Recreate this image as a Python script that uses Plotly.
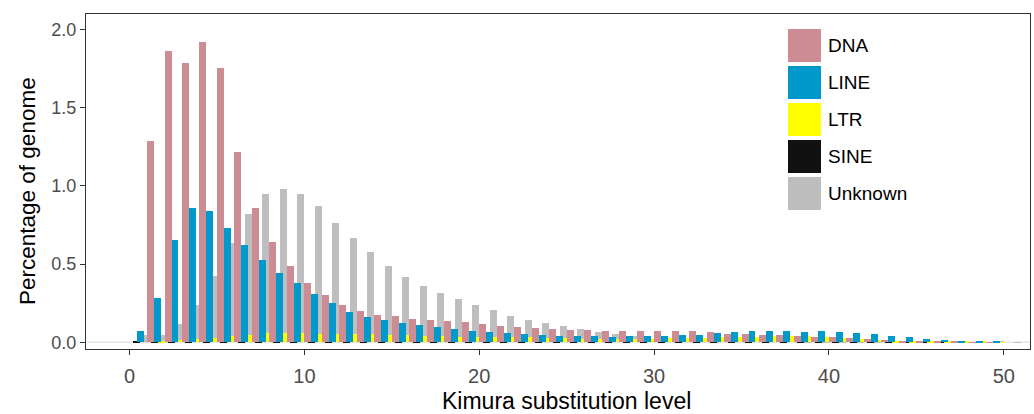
import plotly.graph_objects as go

levels = list(range(0, 51))

dna = [0.0, 1.288, 1.861, 1.785, 1.921, 1.751, 1.216, 0.858, 0.643, 0.488,
       0.377, 0.302, 0.238, 0.198, 0.174, 0.166, 0.151, 0.142, 0.136, 0.128,
       0.117, 0.104, 0.098, 0.091, 0.085, 0.079, 0.077, 0.072, 0.070, 0.070,
       0.070, 0.070, 0.070, 0.066, 0.055, 0.053, 0.047, 0.047, 0.040, 0.034,
       0.034, 0.025, 0.021, 0.013, 0.009, 0.004, 0.003, 0.002, 0.001, 0.001,
       0.0]

line = [0.072, 0.281, 0.654, 0.856, 0.839, 0.730, 0.620, 0.526, 0.441, 0.381,
        0.307, 0.249, 0.194, 0.164, 0.142, 0.125, 0.111, 0.096, 0.085, 0.074,
        0.068, 0.061, 0.055, 0.049, 0.042, 0.040, 0.038, 0.036, 0.038, 0.040,
        0.040, 0.047, 0.049, 0.059, 0.066, 0.072, 0.072, 0.072, 0.066, 0.070,
        0.066, 0.059, 0.053, 0.042, 0.034, 0.023, 0.015, 0.011, 0.006, 0.004,
        0.0]

ltr = [0.0, 0.004, 0.015, 0.021, 0.030, 0.040, 0.047, 0.057, 0.058, 0.061,
       0.055, 0.053, 0.053, 0.053, 0.047, 0.047, 0.040, 0.040, 0.034, 0.034,
       0.034, 0.033, 0.032, 0.028, 0.027, 0.023, 0.023, 0.023, 0.023, 0.023,
       0.028, 0.028, 0.030, 0.032, 0.034, 0.032, 0.038, 0.040, 0.040, 0.036,
       0.030, 0.021, 0.017, 0.011, 0.011, 0.006, 0.004, 0.003, 0.002, 0.001,
       0.0]

sine = [0.002, 0.0005, 0.0005, 0.0005, 0.0005, 0.0005, 0.0005, 0.0005, 0.0005, 0.0005,
        0.0005, 0.0005, 0.0005, 0.0005, 0.0005, 0.0005, 0.0005, 0.0005, 0.0005, 0.0005,
        0.0005, 0.0005, 0.0005, 0.0005, 0.0005, 0.0005, 0.0005, 0.0005, 0.0005, 0.0005,
        0.0003, 0.0003, 0.0003, 0.0003, 0.0003, 0.0003, 0.0003, 0.0003, 0.0003, 0.0003,
        0.0003, 0.0003, 0.0003, 0.0003, 0.0003, 0.0003, 0.0003, 0.0003, 0.0003, 0.0003,
        0.0]

unknown = [0.045, 0.047, 0.117, 0.238, 0.426, 0.634, 0.820, 0.948, 0.980, 0.950,
           0.871, 0.764, 0.666, 0.575, 0.490, 0.417, 0.360, 0.313, 0.275, 0.238,
           0.204, 0.171, 0.145, 0.123, 0.102, 0.083, 0.064, 0.051, 0.038, 0.022,
           0.020, 0.019, 0.018, 0.017, 0.016, 0.015, 0.014, 0.013, 0.012, 0.011,
           0.010, 0.009, 0.008, 0.008, 0.007, 0.006, 0.005, 0.004, 0.003, 0.002,
           0.001]

names = ["DNA", "LINE", "LTR", "SINE", "Unknown"]
colors = {"DNA": "#CD8B93", "LINE": "#0099CC", "LTR": "#FFFF00",
          "SINE": "#111111", "Unknown": "#BEBEBE"}
offsets = {"DNA": 0.0, "SINE": 0.2, "LINE": 0.4, "LTR": 0.6, "Unknown": 0.6}
values = {"DNA": dna, "LINE": line, "LTR": ltr, "SINE": sine, "Unknown": unknown}
draw_order = ["Unknown", "LTR", "SINE", "LINE", "DNA"]

W, H = 1034, 414
L, R, T, B = 86, 4, 14, 65

fig = go.Figure()
for nm in draw_order:
    fig.add_trace(go.Bar(
        x=levels, y=values[nm], name=nm, width=0.4, offset=offsets[nm],
        marker=dict(color=colors[nm], line=dict(width=0)),
        showlegend=False,
    ))

def px_x(p):
    return (p - L) / (W - L - R)

def px_y(p):
    return 1 - (p - T) / (H - T - B)

shapes = [dict(type="line", xref="paper", yref="y", x0=0, x1=1, y0=0, y1=0,
               line=dict(color="#E5E5E5", width=1.5), layer="below")]
annotations = []
key_x0, key_x1 = 788, 821
key_tops = [29, 66, 103, 140, 177]
for nm, top in zip(names, key_tops):
    shapes.append(dict(type="rect", xref="paper", yref="paper",
                       x0=px_x(key_x0), x1=px_x(key_x1),
                       y0=px_y(top + 33), y1=px_y(top),
                       fillcolor=colors[nm], line=dict(width=0)))
    annotations.append(dict(xref="paper", yref="paper", x=px_x(826),
                            y=px_y(top + 16.5), text=nm, showarrow=False,
                            xanchor="left", yanchor="middle",
                            font=dict(size=19, color="#000000")))

# axis titles
annotations.append(dict(xref="paper", yref="paper", x=px_x(566), y=px_y(401),
                        text="Kimura substitution level", showarrow=False,
                        xanchor="center", yanchor="middle",
                        font=dict(size=23, color="#000000")))
annotations.append(dict(xref="paper", yref="paper", x=px_x(27), y=px_y(191),
                        text="Percentage of genome", showarrow=False, textangle=-90,
                        xanchor="center", yanchor="middle",
                        font=dict(size=22.5, color="#000000")))

fig.update_layout(
    width=W, height=H,
    margin=dict(l=L, r=R, t=T, b=B, pad=0),
    paper_bgcolor="white", plot_bgcolor="white",
    barmode="overlay", bargap=0,
    font=dict(family="Liberation Sans, Arial, sans-serif", color="#000000"),
    shapes=shapes, annotations=annotations,
    showlegend=False,
    xaxis=dict(
        range=[-2.49, 51.5], tickvals=[0, 10, 20, 30, 40, 50],
        ticktext=["0", "10", "20", "30", "40", "50"],
        showgrid=False, zeroline=False,
        showline=True, mirror=True, linecolor="#333333", linewidth=1.3,
        ticks="outside", ticklen=5, tickwidth=1.3, tickcolor="#333333",
        ticklabelstandoff=4,
        tickfont=dict(size=20, color="#4D4D4D"),
    ),
    yaxis=dict(
        range=[-0.043, 2.098], tickvals=[0, 0.5, 1.0, 1.5, 2.0],
        ticktext=["0.0", "0.5", "1.0", "1.5", "2.0"],
        showgrid=False, zeroline=False,
        showline=True, mirror=True, linecolor="#333333", linewidth=1.3,
        ticks="outside", ticklen=5, tickwidth=1.3, tickcolor="#333333",
        tickfont=dict(size=18, color="#4D4D4D"),
    ),
)

fig.write_html("out.html")
